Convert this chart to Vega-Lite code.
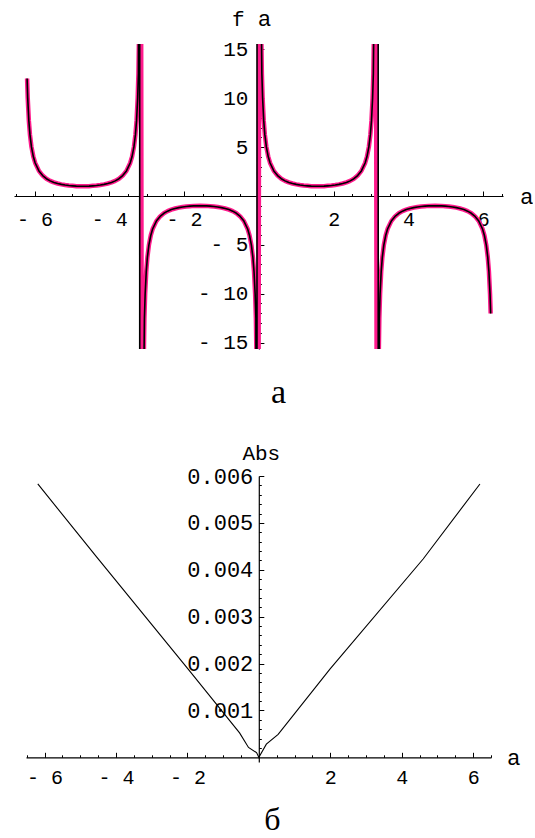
{
  "$schema": "https://vega.github.io/schema/vega-lite/v6.json",
  "background": "white",
  "padding": {"left": 14, "top": 7, "right": 0, "bottom": 0},
  "bounds": "flush",
  "center": true,
  "spacing": 127,
  "config": {
    "view": {"stroke": null},
    "axis": {
      "grid": false,
      "domainColor": "black",
      "tickColor": "black",
      "labelColor": "black",
      "titleColor": "black",
      "labelFont": "Liberation Mono",
      "labelFontSize": 20,
      "labelFontWeight": "normal",
      "titleFont": "Liberation Mono",
      "titleFontSize": 21,
      "titleFontWeight": "normal",
      "titleAngle": 0,
      "labelOverlap": false,
      "labelFlush": false,
      "domainWidth": 1.2,
      "tickWidth": 1
    }
  },
  "vconcat": [
    {
      "width": 489,
      "height": 305,
      "data": {
        "values": [
          {"a": -6.2, "f": 12.03}, {"a": -6.183, "f": 10.02}, {"a": -6.153, "f": 7.71}, {"a": -6.123, "f": 6.28},
          {"a": -6.083, "f": 5.03}, {"a": -6.033, "f": 4.04}, {"a": -5.983, "f": 3.38}, {"a": -5.883, "f": 2.57},
          {"a": -5.783, "f": 2.09}, {"a": -5.683, "f": 1.77}, {"a": -5.583, "f": 1.55}, {"a": -5.483, "f": 1.39},
          {"a": -5.383, "f": 1.28}, {"a": -5.283, "f": 1.19}, {"a": -5.183, "f": 1.12}, {"a": -5.083, "f": 1.07},
          {"a": -4.983, "f": 1.04}, {"a": -4.883, "f": 1.01}, {"a": -4.712, "f": 1.0}, {"a": -4.542, "f": 1.01},
          {"a": -4.442, "f": 1.04}, {"a": -4.342, "f": 1.07}, {"a": -4.242, "f": 1.12}, {"a": -4.142, "f": 1.19},
          {"a": -4.042, "f": 1.28}, {"a": -3.942, "f": 1.39}, {"a": -3.842, "f": 1.55}, {"a": -3.742, "f": 1.77},
          {"a": -3.642, "f": 2.09}, {"a": -3.542, "f": 2.57}, {"a": -3.442, "f": 3.38}, {"a": -3.392, "f": 4.04},
          {"a": -3.342, "f": 5.03}, {"a": -3.302, "f": 6.28}, {"a": -3.272, "f": 7.71}, {"a": -3.242, "f": 10.02},
          {"a": -3.222, "f": 12.51},
          {"a": -3.192, "f": 20.01, "s": "p"}, {"a": -3.189, "f": 60.0, "s": "b"}, {"a": -3.185, "f": -60.0, "s": "b"},
          {"a": -3.162, "f": 50.0, "s": "p"}, {"a": -3.122, "f": -50.0, "s": "p"}, {"a": -3.092, "f": -20.01, "s": "p"},
          {"a": -3.062, "f": -12.51}, {"a": -3.042, "f": -10.02},
          {"a": -3.012, "f": -7.71}, {"a": -2.982, "f": -6.28}, {"a": -2.942, "f": -5.03}, {"a": -2.892, "f": -4.04},
          {"a": -2.842, "f": -3.38}, {"a": -2.742, "f": -2.57}, {"a": -2.642, "f": -2.09}, {"a": -2.542, "f": -1.77},
          {"a": -2.442, "f": -1.55}, {"a": -2.342, "f": -1.39}, {"a": -2.242, "f": -1.28}, {"a": -2.142, "f": -1.19},
          {"a": -2.042, "f": -1.12}, {"a": -1.942, "f": -1.07}, {"a": -1.842, "f": -1.04}, {"a": -1.742, "f": -1.01},
          {"a": -1.571, "f": -1.0}, {"a": -1.4, "f": -1.01}, {"a": -1.3, "f": -1.04}, {"a": -1.2, "f": -1.07},
          {"a": -1.1, "f": -1.12}, {"a": -1.0, "f": -1.19}, {"a": -0.9, "f": -1.28}, {"a": -0.8, "f": -1.39},
          {"a": -0.7, "f": -1.55}, {"a": -0.6, "f": -1.77}, {"a": -0.5, "f": -2.09}, {"a": -0.4, "f": -2.57},
          {"a": -0.3, "f": -3.38}, {"a": -0.25, "f": -4.04}, {"a": -0.2, "f": -5.03}, {"a": -0.16, "f": -6.28},
          {"a": -0.13, "f": -7.71}, {"a": -0.1, "f": -10.02}, {"a": -0.08, "f": -12.51},
          {"a": -0.052, "f": -60.0, "s": "b"}, {"a": -0.05, "f": -20.01, "s": "p"}, {"a": -0.048, "f": 60.0, "s": "b"},
          {"a": -0.02, "f": -50.0, "s": "p"}, {"a": 0.02, "f": 50.0, "s": "p"}, {"a": 0.05, "f": 20.01, "s": "p"},
          {"a": 0.08, "f": 12.51}, {"a": 0.1, "f": 10.02},
          {"a": 0.13, "f": 7.71}, {"a": 0.16, "f": 6.28}, {"a": 0.2, "f": 5.03}, {"a": 0.25, "f": 4.04},
          {"a": 0.3, "f": 3.38}, {"a": 0.4, "f": 2.57}, {"a": 0.5, "f": 2.09}, {"a": 0.6, "f": 1.77},
          {"a": 0.7, "f": 1.55}, {"a": 0.8, "f": 1.39}, {"a": 0.9, "f": 1.28}, {"a": 1.0, "f": 1.19},
          {"a": 1.1, "f": 1.12}, {"a": 1.2, "f": 1.07}, {"a": 1.3, "f": 1.04}, {"a": 1.4, "f": 1.01},
          {"a": 1.571, "f": 1.0}, {"a": 1.742, "f": 1.01}, {"a": 1.842, "f": 1.04}, {"a": 1.942, "f": 1.07},
          {"a": 2.042, "f": 1.12}, {"a": 2.142, "f": 1.19}, {"a": 2.242, "f": 1.28}, {"a": 2.342, "f": 1.39},
          {"a": 2.442, "f": 1.55}, {"a": 2.542, "f": 1.77}, {"a": 2.642, "f": 2.09}, {"a": 2.742, "f": 2.57},
          {"a": 2.842, "f": 3.38}, {"a": 2.892, "f": 4.04}, {"a": 2.942, "f": 5.03}, {"a": 2.982, "f": 6.28},
          {"a": 3.012, "f": 7.71}, {"a": 3.042, "f": 10.02}, {"a": 3.062, "f": 12.51},
          {"a": 3.092, "f": 20.01, "s": "p"}, {"a": 3.122, "f": 50.0, "s": "p"}, {"a": 3.162, "f": -50.0, "s": "p"},
          {"a": 3.19, "f": 60.0, "s": "b"}, {"a": 3.192, "f": -20.01, "s": "p"}, {"a": 3.194, "f": -60.0, "s": "b"},
          {"a": 3.222, "f": -12.51}, {"a": 3.242, "f": -10.02},
          {"a": 3.272, "f": -7.71}, {"a": 3.302, "f": -6.28}, {"a": 3.342, "f": -5.03}, {"a": 3.392, "f": -4.04},
          {"a": 3.442, "f": -3.38}, {"a": 3.542, "f": -2.57}, {"a": 3.642, "f": -2.09}, {"a": 3.742, "f": -1.77},
          {"a": 3.842, "f": -1.55}, {"a": 3.942, "f": -1.39}, {"a": 4.042, "f": -1.28}, {"a": 4.142, "f": -1.19},
          {"a": 4.242, "f": -1.12}, {"a": 4.342, "f": -1.07}, {"a": 4.442, "f": -1.04}, {"a": 4.542, "f": -1.01},
          {"a": 4.712, "f": -1.0}, {"a": 4.883, "f": -1.01}, {"a": 4.983, "f": -1.04}, {"a": 5.083, "f": -1.07},
          {"a": 5.183, "f": -1.12}, {"a": 5.283, "f": -1.19}, {"a": 5.383, "f": -1.28}, {"a": 5.483, "f": -1.39},
          {"a": 5.583, "f": -1.55}, {"a": 5.683, "f": -1.77}, {"a": 5.783, "f": -2.09}, {"a": 5.883, "f": -2.57},
          {"a": 5.983, "f": -3.38}, {"a": 6.033, "f": -4.04}, {"a": 6.083, "f": -5.03}, {"a": 6.123, "f": -6.28},
          {"a": 6.153, "f": -7.71}, {"a": 6.183, "f": -10.02}, {"a": 6.2, "f": -12.03}
        ]
      },
      "layer": [
        {
          "transform": [{"filter": "datum.s !== 'b'"}],
          "mark": {"type": "line", "color": "#ff1a8c", "strokeWidth": 4.5, "clip": true, "strokeJoin": "round"},
          "encoding": {
            "x": {
              "field": "a", "type": "quantitative",
              "scale": {"domain": [-6.55, 6.53], "nice": false, "zero": false},
              "axis": {
                "orient": "bottom", "offset": -153,
                "values": [-6, -4, -2, 2, 4, 6],
                "tickSize": -5, "labelPadding": 18,
                "labelExpr": "datum.value < 0 ? '- ' + (-datum.value) : '' + datum.value",
                "title": "a", "titleFont": "Liberation Sans", "titleFontSize": 22,
                "titleX": 512, "titleY": 0, "titleBaseline": "middle", "titleAlign": "center"
              }
            },
            "y": {
              "field": "f", "type": "quantitative",
              "scale": {"domain": [-15.66, 15.56], "nice": false, "zero": false},
              "axis": {
                "orient": "left", "offset": -244.9,
                "values": [-15, -10, -5, 5, 10, 15],
                "tickSize": -5, "labelPadding": 16, "labelFontSize": 21,
                "labelExpr": "datum.value < 0 ? '- ' + (-datum.value) : '' + datum.value",
                "domain": true,
                "title": "f", "titleX": -21, "titleY": -19,
                "titleBaseline": "alphabetic", "titleAlign": "center"
              }
            }
          }
        },
        {
          "transform": [{"filter": "datum.s !== 'p'"}],
          "mark": {"type": "line", "color": "black", "strokeWidth": 1.6, "clip": true, "strokeJoin": "round"},
          "encoding": {
            "x": {
              "field": "a", "type": "quantitative",
              "axis": {
                "orient": "bottom", "offset": -153,
                "values": [-6.5, -5.5, -5, -4.5, -3.5, -3, -2.5, -1.5, -1, -0.5, 0.5, 1, 1.5, 2.5, 3, 3.5, 4.5, 5, 5.5, 6.5],
                "tickSize": -2.5, "labels": false, "domain": false,
                "title": "а", "titleFont": "Liberation Serif", "titleFontSize": 34,
                "titleX": 264, "titleY": 206, "titleBaseline": "alphabetic", "titleAlign": "center"
              }
            },
            "y": {
              "field": "f", "type": "quantitative",
              "axis": {
                "orient": "left", "offset": -244.9,
                "values": [-14, -13, -12, -11, -9, -8, -7, -6, -4, -3, -2, -1, 1, 2, 3, 4, 6, 7, 8, 9, 11, 12, 13, 14],
                "tickSize": -2.5, "labels": false, "domain": false,
                "title": "a", "titleFont": "Liberation Sans", "titleFontSize": 22,
                "titleX": 5, "titleY": -19, "titleBaseline": "alphabetic", "titleAlign": "center"
              }
            }
          }
        }
      ],
      "resolve": {"axis": {"x": "independent", "y": "independent"}}
    },
    {
      "width": 465,
      "height": 286,
      "data": {
        "values": [
          {"a": -6.19, "v": 0.00583},
          {"a": -4.55, "v": 0.00428},
          {"a": -1.98, "v": 0.00188},
          {"a": -0.54, "v": 0.00052},
          {"a": -0.29, "v": 0.00021},
          {"a": -0.065, "v": 0.0001},
          {"a": 0.0, "v": 0.0},
          {"a": 0.21, "v": 0.00028},
          {"a": 0.54, "v": 0.00049},
          {"a": 1.99, "v": 0.00188},
          {"a": 4.6, "v": 0.00423},
          {"a": 6.19, "v": 0.00583}
        ]
      },
      "layer": [
        {
          "mark": {"type": "line", "color": "black", "strokeWidth": 1.1},
          "encoding": {
            "x": {
              "field": "a", "type": "quantitative",
              "scale": {"domain": [-6.52, 6.5], "nice": false, "zero": false},
              "axis": {
                "orient": "bottom", "offset": -4.7,
                "values": [-6, -4, -2, 2, 4, 6],
                "tickSize": -5, "labelPadding": 15,
                "labelExpr": "datum.value < 0 ? '- ' + (-datum.value) : '' + datum.value",
                "title": "a", "titleFont": "Liberation Sans", "titleFontSize": 22,
                "titleX": 487, "titleY": 0, "titleBaseline": "middle", "titleAlign": "center"
              }
            },
            "y": {
              "field": "v", "type": "quantitative",
              "scale": {"domain": [-0.0001, 0.006], "nice": false, "zero": false},
              "axis": {
                "orient": "left", "offset": -232.8,
                "values": [0.001, 0.002, 0.003, 0.004, 0.005, 0.006],
                "format": ".3f",
                "tickSize": -5, "labelPadding": 11, "labelFontSize": 22,
                "title": "Abs", "titleX": 2, "titleY": -17,
                "titleBaseline": "alphabetic", "titleAlign": "center"
              }
            }
          }
        },
        {
          "mark": {"type": "line", "color": "black", "strokeWidth": 1.1, "opacity": 0},
          "encoding": {
            "x": {
              "field": "a", "type": "quantitative",
              "axis": {
                "orient": "bottom", "offset": -4.7,
                "values": [-6.5, -5.5, -5, -4.5, -3.5, -3, -2.5, -1.5, -1, -0.5, 0.5, 1, 1.5, 2.5, 3, 3.5, 4.5, 5, 5.5, 6.5],
                "tickSize": -2.5, "labels": false, "domain": false,
                "title": "б", "titleFont": "Liberation Serif", "titleFontSize": 32,
                "titleX": 246, "titleY": 72, "titleBaseline": "alphabetic", "titleAlign": "center"
              }
            },
            "y": {
              "field": "v", "type": "quantitative",
              "axis": {
                "orient": "left", "offset": -232.8,
                "values": [0.0002, 0.0004, 0.0006, 0.0008, 0.0012, 0.0014, 0.0016, 0.0018, 0.0022, 0.0024, 0.0026, 0.0028, 0.0032, 0.0034, 0.0036, 0.0038, 0.0042, 0.0044, 0.0046, 0.0048, 0.0052, 0.0054, 0.0056, 0.0058],
                "tickSize": -2.5, "labels": false, "domain": false, "title": null
              }
            }
          }
        }
      ],
      "resolve": {"axis": {"x": "independent", "y": "independent"}}
    }
  ]
}
